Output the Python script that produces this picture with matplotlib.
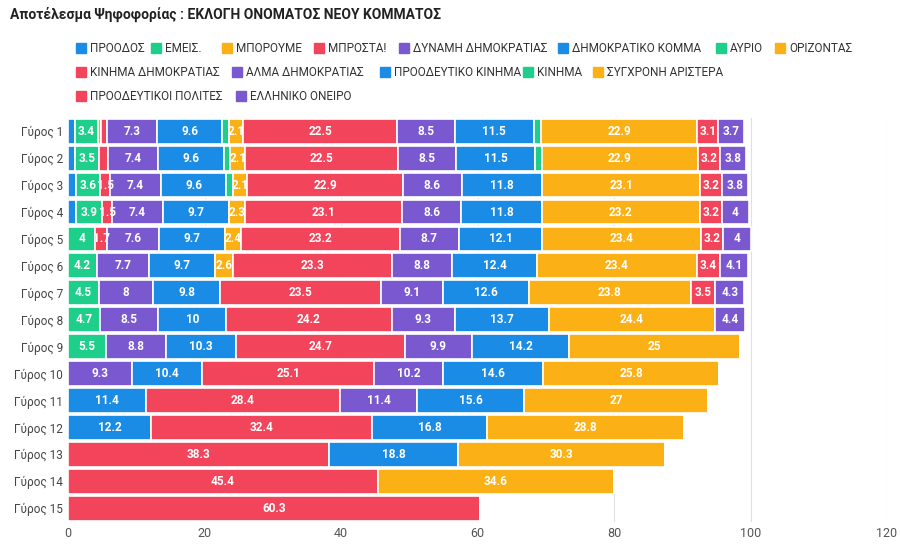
import matplotlib
matplotlib.use("Agg")
import matplotlib.pyplot as plt
import numpy as np

rounds = [f"Γύρος {i}" for i in range(1, 16)]
parties = ["ΠΡΟΟΔΟΣ", "ΕΜΕΙΣ.", "ΜΠΟΡΟΥΜΕ", "ΜΠΡΟΣΤΑ!", "ΔΥΝΑΜΗ ΔΗΜΟΚΡΑΤΙΑΣ",
           "ΔΗΜΟΚΡΑΤΙΚΟ ΚΟΜΜΑ", "ΑΥΡΙΟ", "ΟΡΙΖΟΝΤΑΣ", "ΚΙΝΗΜΑ ΔΗΜΟΚΡΑΤΙΑΣ",
           "ΑΛΜΑ ΔΗΜΟΚΡΑΤΙΑΣ", "ΠΡΟΟΔΕΥΤΙΚΟ ΚΙΝΗΜΑ", "ΚΙΝΗΜΑ", "ΣΥΓΧΡΟΝΗ ΑΡΙΣΤΕΡΑ",
           "ΠΡΟΟΔΕΥΤΙΚΟΙ ΠΟΛΙΤΕΣ", "ΕΛΛΗΝΙΚΟ ΟΝΕΙΡΟ"]
colors = ["#1a8ce6", "#1ecf8b", "#fbb116", "#f2445b", "#7a58d0",
          "#1a8ce6", "#1ecf8b", "#fbb116", "#f2445b", "#7a58d0",
          "#1a8ce6", "#1ecf8b", "#fbb116", "#f2445b", "#7a58d0"]

proodos   = [1.0, 1.0, 1.1, 1.1, 0, 0, 0, 0, 0, 0, 0, 0, 0, 0, 0]
emeis     = [3.4, 3.5, 3.6, 3.9, 4, 4.2, 4.5, 4.7, 5.5, 0, 0, 0, 0, 0, 0]
mporoume  = [0.5, 0, 0, 0, 0, 0, 0, 0, 0, 0, 0, 0, 0, 0, 0]
mprosta   = [0.8, 1.3, 1.5, 1.5, 1.7, 0, 0, 0, 0, 0, 0, 0, 0, 0, 0]
dynami    = [7.3, 7.4, 7.4, 7.4, 7.6, 7.7, 8, 8.5, 8.8, 9.3, 0, 0, 0, 0, 0]
dimkomma  = [9.6, 9.6, 9.6, 9.7, 9.7, 9.7, 9.8, 10, 10.3, 10.4, 11.4, 12.2, 0, 0, 0]
avrio     = [1.0, 1.0, 0.9, 0, 0, 0, 0, 0, 0, 0, 0, 0, 0, 0, 0]
orizontas = [2.1, 2.1, 2.1, 2.3, 2.4, 2.6, 0, 0, 0, 0, 0, 0, 0, 0, 0]
kindim    = [22.5, 22.5, 22.9, 23.1, 23.2, 23.3, 23.5, 24.2, 24.7, 25.1, 28.4, 32.4, 38.3, 45.4, 60.3]
alma      = [8.5, 8.5, 8.6, 8.6, 8.7, 8.8, 9.1, 9.3, 9.9, 10.2, 11.4, 0, 0, 0, 0]
prkinima  = [11.5, 11.5, 11.8, 11.8, 12.1, 12.4, 12.6, 13.7, 14.2, 14.6, 15.6, 16.8, 18.8, 0, 0]
kinima    = [1.1, 1.0, 0, 0, 0, 0, 0, 0, 0, 0, 0, 0, 0, 0, 0]
sygxroni  = [22.9, 22.9, 23.1, 23.2, 23.4, 23.4, 23.8, 24.4, 25, 25.8, 27, 28.8, 30.3, 34.6, 0]
prpolites = [3.1, 3.2, 3.2, 3.2, 3.2, 3.4, 3.5, 0, 0, 0, 0, 0, 0, 0, 0]
oneiro    = [3.7, 3.8, 3.8, 4, 4, 4.1, 4.3, 4.4, 0, 0, 0, 0, 0, 0, 0]
series = [proodos, emeis, mporoume, mprosta, dynami, dimkomma, avrio, orizontas,
          kindim, alma, prkinima, kinima, sygxroni, prpolites, oneiro]

plt.rcParams['font.family'] = ['Roboto', 'DejaVu Sans']
fig = plt.figure(figsize=(9, 5.58), dpi=100)
ax = fig.add_axes([0.0756, 0.065, 0.91, 0.724])
y = np.arange(len(rounds))
left = np.zeros(len(rounds))
for name, vals, c in zip(parties, series, colors):
    v = np.array(vals, float)
    ax.barh(y, v, left=left, height=0.92, color=c, edgecolor="white", linewidth=1.2, zorder=3)
    for i in range(len(v)):
        if v[i] >= 1.4:
            ax.text(left[i] + v[i] / 2, y[i], f"{v[i]:g}", ha="center", va="center",
                    color="white", fontsize=8.5, fontweight="bold", zorder=4, clip_on=True)
    left += v
ax.set_ylim(len(rounds) - 0.5, -0.5)
ax.set_xlim(0, 120)
ax.set_xticks(range(0, 121, 20))
ax.set_yticks(y)
ax.set_yticklabels(rounds, fontsize=8.5, color="#444444")
ax.tick_params(axis="x", labelsize=9, colors="#555555", length=0)
ax.tick_params(axis="y", length=0)
ax.grid(axis="x", color="#e0e0e0", zorder=0)
for s in ax.spines.values():
    s.set_visible(False)

fig.text(0.011, 0.975, "Αποτέλεσμα Ψηφοφορίας : ΕΚΛΟΓΗ ΟΝΟΜΑΤΟΣ ΝΕΟΥ ΚΟΜΜΑΤΟΣ",
         fontsize=10, fontweight="bold", color="#222222", va="center")

leg_pos = [(76, 48), (151, 48), (222, 48), (314, 48), (399, 48), (558, 48), (716, 48), (775, 48),
           (76, 72), (232, 72), (380, 72), (523, 72), (593, 72),
           (76, 96), (236, 96)]
W, H = 900, 558
for (px, py), name, c in zip(leg_pos, parties, colors):
    fig.patches.append(plt.Rectangle((px / W, 1 - (py + 5) / H), 10 / W, 10 / H,
                                     color=c, transform=fig.transFigure, figure=fig))
    fig.text((px + 14) / W, 1 - py / H, name, fontsize=8.5, color="#333333", va="center")

fig.savefig("out.png", dpi=100)
